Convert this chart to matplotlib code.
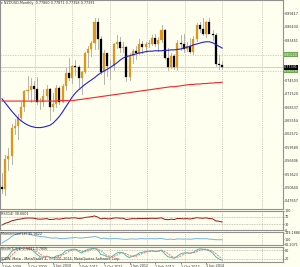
import numpy as np
import matplotlib.pyplot as plt
from matplotlib.patches import Rectangle

# monthly NZDUSD candles, Feb 2009 .. Nov 2014
opens = [0.5085, 0.5030, 0.5700, 0.5760, 0.6390, 0.6440, 0.6620, 0.6850, 0.7210, 0.7240, 0.7320,
         0.7260, 0.6960, 0.6960, 0.7110, 0.7250, 0.6850, 0.6920, 0.7270, 0.6980, 0.7330, 0.7610, 0.7500,
         0.7770, 0.7750, 0.7500, 0.7640, 0.8050, 0.8160, 0.8280, 0.8740, 0.8380, 0.7640, 0.8050, 0.7770,
         0.7770, 0.8260, 0.8300, 0.8170, 0.8200, 0.7530, 0.7990, 0.8110, 0.8050, 0.8270, 0.8200, 0.8270,
         0.8270, 0.8390, 0.8270, 0.8360, 0.8570, 0.7950, 0.7740, 0.7990, 0.7750, 0.8290, 0.8270, 0.8140,
         0.8220, 0.8080, 0.8370, 0.8680, 0.8600, 0.8490, 0.8750, 0.8480, 0.8460, 0.7810, 0.7800]
highs = [0.5400, 0.5790, 0.5950, 0.6470, 0.6600, 0.6700, 0.6960, 0.7240, 0.7540, 0.7500, 0.7440,
         0.7530, 0.7060, 0.7260, 0.7340, 0.7270, 0.7170, 0.7340, 0.7330, 0.7370, 0.7730, 0.7950, 0.7790,
         0.7900, 0.7790, 0.7660, 0.8090, 0.8220, 0.8320, 0.8840, 0.8840, 0.8440, 0.8120, 0.8060, 0.7900,
         0.8290, 0.8470, 0.8420, 0.8300, 0.8220, 0.8070, 0.8140, 0.8210, 0.8380, 0.8320, 0.8300, 0.8360,
         0.8460, 0.8480, 0.8410, 0.8680, 0.8600, 0.8170, 0.8070, 0.8030, 0.8360, 0.8470, 0.8480, 0.8300,
         0.8400, 0.8430, 0.8720, 0.8740, 0.8840, 0.8770, 0.8840, 0.8580, 0.8500, 0.8010, 0.7880]
lows = [0.4950, 0.4900, 0.5460, 0.5600, 0.6250, 0.6150, 0.6560, 0.6760, 0.7040, 0.6970, 0.7020,
        0.6920, 0.6810, 0.6890, 0.7040, 0.6570, 0.6770, 0.6850, 0.6930, 0.6970, 0.7240, 0.7470, 0.7400,
        0.7570, 0.7300, 0.7150, 0.7620, 0.7740, 0.7990, 0.8140, 0.8140, 0.7590, 0.7370, 0.7540, 0.7480,
        0.7690, 0.8180, 0.8080, 0.8080, 0.7430, 0.7460, 0.7840, 0.7920, 0.8030, 0.8070, 0.8080, 0.8200,
        0.8230, 0.8220, 0.8100, 0.8300, 0.7920, 0.7680, 0.7720, 0.7700, 0.7690, 0.8120, 0.8090, 0.8100,
        0.8050, 0.8030, 0.8320, 0.8530, 0.8460, 0.8420, 0.8500, 0.8340, 0.7770, 0.7700, 0.7700]
closes = [0.5035, 0.5700, 0.5760, 0.6390, 0.6440, 0.6620, 0.6850, 0.7210, 0.7240, 0.7320, 0.7260,
          0.6960, 0.6960, 0.7110, 0.7250, 0.6850, 0.6920, 0.7270, 0.6980, 0.7330, 0.7610, 0.7500, 0.7770,
          0.7750, 0.7500, 0.7640, 0.8050, 0.8160, 0.8280, 0.8740, 0.8380, 0.7640, 0.8050, 0.7770, 0.7770,
          0.8260, 0.8300, 0.8170, 0.8200, 0.7530, 0.7990, 0.8110, 0.8050, 0.8270, 0.8200, 0.8270, 0.8270,
          0.8390, 0.8270, 0.8360, 0.8570, 0.7950, 0.7740, 0.7990, 0.7750, 0.8290, 0.8270, 0.8140, 0.8220,
          0.8080, 0.8370, 0.8680, 0.8600, 0.8490, 0.8750, 0.8480, 0.8460, 0.7810, 0.7800, 0.7739]

ma_fast = [0.704, 0.695, 0.686, 0.677, 0.669, 0.661, 0.655, 0.650, 0.646, 0.643, 0.641, 0.640,
           0.640, 0.641, 0.643, 0.645, 0.650, 0.657, 0.665, 0.675, 0.686, 0.697, 0.708, 0.717,
           0.724, 0.730, 0.736, 0.741, 0.746, 0.751, 0.757, 0.762, 0.766, 0.770, 0.774, 0.779,
           0.784, 0.790, 0.795, 0.798, 0.800, 0.802, 0.804, 0.806, 0.807, 0.809, 0.810, 0.810,
           0.811, 0.811, 0.811, 0.812, 0.812, 0.813, 0.813, 0.814, 0.815, 0.817, 0.819, 0.821,
           0.824, 0.826, 0.828, 0.830, 0.831, 0.831, 0.829, 0.825, 0.821, 0.817]
ma_slow = [0.699, 0.699, 0.699, 0.699, 0.699, 0.699, 0.699, 0.699, 0.699, 0.699, 0.699, 0.699,
           0.699, 0.699, 0.699, 0.699, 0.699, 0.699, 0.700, 0.700, 0.700, 0.700, 0.700, 0.701,
           0.702, 0.703, 0.704, 0.705, 0.706, 0.707, 0.708, 0.709, 0.710, 0.711, 0.712, 0.713,
           0.714, 0.715, 0.716, 0.717, 0.718, 0.719, 0.720, 0.721, 0.722, 0.723, 0.724, 0.725,
           0.726, 0.727, 0.728, 0.729, 0.730, 0.731, 0.731, 0.732, 0.733, 0.734, 0.735, 0.736,
           0.736, 0.737, 0.737, 0.738, 0.738, 0.739, 0.739, 0.740, 0.740, 0.741]

rsi = [26, 35, 40, 48, 52, 56, 58, 62, 63, 63, 62, 58, 57, 58, 60, 55, 56, 59, 57, 60, 63, 62, 64,
       64, 61, 62, 66, 68, 70, 74, 68, 58, 62, 59, 59, 63, 64, 62, 62, 55, 58, 60, 59, 61, 60, 61, 61,
       62, 61, 62, 64, 56, 54, 57, 55, 61, 60, 59, 60, 58, 61, 65, 63, 62, 64, 60, 59, 48, 46, 42]
momentum = [70, 85, 100, 120, 135, 140, 145, 148, 140, 135, 130, 125, 120, 118, 115, 110, 108, 110, 105,
            104, 106, 108, 110, 112, 110, 108, 112, 114, 116, 120, 115, 105, 108, 104, 102, 106, 104, 102,
            100, 98, 101, 102, 100, 103, 104, 102, 103, 104, 102, 104, 106, 100, 98, 100, 97, 102, 101, 100,
            101, 99, 102, 104, 103, 103, 104, 100, 99, 96, 95, 96]
stoch_k = [10, 20, 40, 70, 85, 90, 92, 95, 90, 85, 70, 50, 35, 30, 40, 30, 25, 40, 45, 55, 75, 80, 85,
           85, 70, 60, 75, 85, 88, 92, 80, 50, 45, 35, 30, 45, 60, 65, 60, 40, 30, 40, 45, 60, 65, 70, 72,
           75, 70, 72, 80, 55, 35, 30, 25, 40, 55, 60, 62, 58, 65, 80, 88, 85, 82, 75, 60, 35, 20, 12]
stoch_d = [15, 15, 25, 45, 65, 80, 88, 92, 92, 90, 82, 68, 52, 38, 35, 33, 30, 32, 37, 47, 58, 70, 80,
           83, 80, 72, 68, 73, 83, 88, 87, 74, 58, 43, 37, 37, 45, 57, 62, 55, 43, 37, 38, 48, 57, 65, 69,
           72, 72, 72, 74, 69, 57, 40, 30, 32, 40, 52, 59, 60, 62, 68, 78, 84, 85, 81, 72, 57, 38, 22]

date_labels = ["1 Feb 2009", "1 Oct 2009", "1 Jun 2010", "1 Feb 2011", "1 Oct 2011",
               "1 Jun 2012", "1 Feb 2013", "1 Oct 2013", "1 Jun 2014"]
date_bars = [0, 8, 16, 24, 32, 40, 48, 56, 64]

W, H = 300, 267
BG = "#fffff0"
BULL = "#e0961c"
BEAR = "#000000"
WICK = "#a8a8a0"
GRID = "#b8b8a8"
PX = 3.19       # pixels per bar
X0 = 2.0        # pixel of first bar
AX_R = 283      # right edge of plotting area
FS = 2.4


def px_box(top, bottom, left=0, right=AX_R):
    return [left / W, 1 - bottom / H, (right - left) / W, (bottom - top) / H]


def style(ax):
    ax.set_facecolor(BG)
    ax.set_xlim(-X0 / PX, (AX_R - X0) / PX)
    ax.tick_params(axis="x", which="both", length=0, labelbottom=False)
    ax.yaxis.tick_right()
    ax.tick_params(axis="y", length=1.0, width=0.4, pad=0.4, labelsize=FS, colors="#303030")
    for s in ax.spines.values():
        s.set_color("#909090")
        s.set_linewidth(0.8)
    for gx in [35, 72, 110, 147, 185, 222, 262]:
        ax.axvline((gx - X0) / PX, color=GRID, lw=0.5, ls=(0, (1.5, 1.5)), zorder=0)


def axis_tag(ax, y, txt, fc, tc):
    ax.text(1.004, y, txt, transform=ax.get_yaxis_transform(), fontsize=FS, color=tc,
            va="center", ha="left", zorder=10, clip_on=False,
            bbox=dict(boxstyle="square,pad=0.12", fc=fc, ec="none"))


fig = plt.figure(figsize=(W / 100, H / 100), dpi=100, facecolor=BG)
n = len(closes)
xs = np.arange(n)

# price panel
ax = fig.add_axes(px_box(0, 209))
style(ax)
ax.set_ylim(0.924 - 209 * 0.002226, 0.924)
for i in range(n):
    o, h, l, c = opens[i], highs[i], lows[i], closes[i]
    ax.plot([i, i], [l, h], color=WICK, lw=0.6, zorder=2)
    col = BULL if c >= o else BEAR
    ax.add_patch(Rectangle((i - 0.32, min(o, c)), 0.64, max(abs(c - o), 0.0008),
                           facecolor=col, edgecolor=col, lw=0.2, zorder=3))
ax.plot(xs, ma_fast, color="#2020e0", lw=0.8, zorder=4)
ax.plot(xs, ma_slow, color="#ff2020", lw=0.8, zorder=4)
ax.axhline(0.802, color="#c8c890", lw=0.5, ls=(0, (2, 1.5)), zorder=1)
ax.axhline(0.766, color="#c8c890", lw=0.5, ls=(0, (2, 1.5)), zorder=1)
ax.axhline(closes[-1], color="#c0c0c0", lw=0.5, zorder=1)
price_ticks = [0.924 - k * 13.4 * 0.002226 for k in range(1, 16)]
ax.set_yticks(price_ticks)
ax.set_yticklabels(["%.5f" % t for t in price_ticks])
axis_tag(ax, 0.802, "0.80220", "#6aa84f", "#ffffff")
axis_tag(ax, 0.766, "0.76570", "#6aa84f", "#ffffff")
axis_tag(ax, closes[-1], "0.77391", "#000000", "#ffffff")
ax.text(0.005, 0.997, "\u25be NZDUSD,Monthly  0.77860 0.77871 0.77358 0.77391",
        transform=ax.transAxes, fontsize=FS, va="top", ha="left", color="#303030")

# RSI panel
ax2 = fig.add_axes(px_box(211, 230))
style(ax2)
ax2.set_ylim(0, 100)
ax2.plot(xs, rsi, color="#a01010", lw=0.7)
for lv in [70, 30]:
    ax2.axhline(lv, color="#909090", lw=0.4, ls=(0, (1.5, 1.5)))
ax2.set_yticks([100, 70, 30, 0])
ax2.set_yticklabels(["100", "70", "30", "0"])
ax2.text(0.005, 0.97, "RSI(14) 38.6601", transform=ax2.transAxes, fontsize=FS,
         va="top", ha="left", color="#303030")

# Momentum panel
ax3 = fig.add_axes(px_box(232, 245))
style(ax3)
ax3.set_ylim(55, 155)
ax3.plot(xs, momentum, color="#6cb4f0", lw=0.7)
ax3.set_yticks([149.1886, 100, 61.2071])
ax3.set_yticklabels(["149.1886", "100", "61.2071"])
ax3.text(0.005, 0.97, "Momentum(14) 95.9422", transform=ax3.transAxes, fontsize=FS,
         va="top", ha="left", color="#303030")

# Stochastic panel
ax4 = fig.add_axes(px_box(247, 262))
style(ax4)
ax4.set_ylim(0, 100)
ax4.plot(xs, stoch_k, color="#40c0b0", lw=0.7)
ax4.plot(xs, stoch_d, color="#ff7070", lw=0.7, ls=(0, (2, 1)))
for lv in [80, 20]:
    ax4.axhline(lv, color="#909090", lw=0.4, ls=(0, (1.5, 1.5)))
ax4.set_yticks([80, 20])
ax4.set_yticklabels(["80", "20"])
ax4.text(0.005, 0.97, "Stoch(5,3,3) 2.5411 3.7806", transform=ax4.transAxes, fontsize=FS,
         va="top", ha="left", color="#303030")
ax4.text(0.005, 0.35, "(DEW: Meta - MetaTrader 4, \u00a9 2001-2014, MetaQuotes Software Corp.",
         transform=ax4.transAxes, fontsize=FS, va="top", ha="left", color="#303030")

# time axis
ax4.set_xticks(date_bars)
ax4.set_xticklabels(date_labels)
ax4.tick_params(axis="x", length=1.5, width=0.4, labelbottom=True, labelsize=FS, pad=0.3,
                direction="out", colors="#303030")
for lab in ax4.get_xticklabels():
    lab.set_horizontalalignment("left")

fig.savefig("out.png", dpi=100, facecolor=BG)
